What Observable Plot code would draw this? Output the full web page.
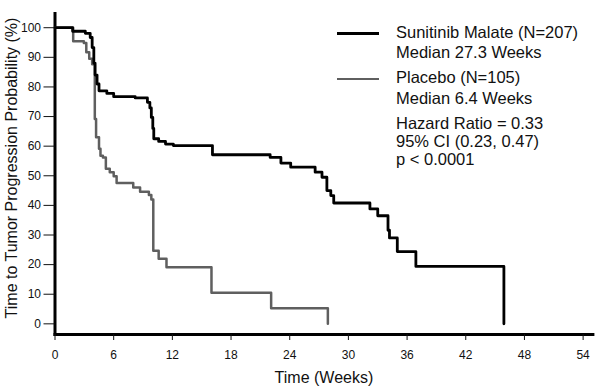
<!DOCTYPE html>
<html>
<head>
<meta charset="utf-8">
<script src="https://cdn.jsdelivr.net/npm/d3@7"></script>
<script src="https://cdn.jsdelivr.net/npm/@observablehq/plot@0.6"></script>
<style>
  html, body { margin: 0; padding: 0; background: #fff; }
  #wrap { position: relative; width: 600px; height: 390px; font-family: "Liberation Sans", Arial, sans-serif; }
  .leg { position: absolute; left: 396px; font-size: 16.5px; color: #111; white-space: nowrap; }
  .sw { position: absolute; left: 337px; width: 42px; }
</style>
</head>
<body>
<div id="wrap"></div>
<script>
// Sunitinib Malate: [time (weeks), probability (%)]
const sunitinibTime = [0, 1.8, 3.1, 3.6, 3.8, 3.97, 4.1, 4.3, 4.5, 5.3, 6.0, 8.2, 9.45, 9.7, 9.85, 10.0, 10.1, 10.6, 11.3, 12.1, 16.1, 22.0, 23.1, 24.1, 26.6, 27.3, 27.8, 28.2, 28.5, 32.2, 33.0, 34.05, 34.2, 35.0, 36.9, 45.9];
const sunitinibProb = [100, 98.8, 98.1, 96.7, 93.3, 88, 84, 81, 78.7, 77.8, 76.7, 76.3, 74.8, 72.9, 69.7, 66, 62.5, 61.6, 60.7, 60.2, 57.1, 56.2, 54.3, 52.9, 51.2, 49.5, 45, 43.3, 40.8, 38.8, 36.5, 31.6, 29, 24.4, 19.4, 0];
// Placebo
const placeboTime = [0, 1.86, 2.95, 3.2, 3.5, 3.8, 4.07, 4.2, 4.5, 4.65, 4.9, 5.2, 5.6, 6.0, 6.3, 8.0, 8.7, 9.6, 9.85, 10.05, 10.6, 11.4, 16.0, 22.1, 27.9];
const placeboProb = [100, 95.4, 94.8, 91.7, 89.5, 87.7, 69.2, 63, 59.1, 56.8, 56.2, 52.4, 51.2, 49.8, 47.6, 46.0, 44.6, 43.5, 42.0, 24.7, 22.0, 19.1, 10.5, 5.3, 0];

const seriesNames = ["Sunitinib Malate", "Placebo"];
const seriesColors = ["#000000", "#5f5f5f"];
const xTicks = [0, 6, 12, 18, 24, 30, 36, 42, 48, 54];
const yTicks = [0, 10, 20, 30, 40, 50, 60, 70, 80, 90, 100];
const legendLines = [
  ["Sunitinib Malate (N=207)", "Median 27.3 Weeks"],
  ["Placebo (N=105)", "Median 6.4 Weeks"],
  ["Hazard Ratio = 0.33", "95% CI (0.23, 0.47)", "p < 0.0001"]
];

const sun = sunitinibTime.map((t, i) => ({t, p: sunitinibProb[i], s: seriesNames[0]}));
const pla = placeboTime.map((t, i) => ({t, p: placeboProb[i], s: seriesNames[1]}));

const chart = Plot.plot({
  width: 600,
  height: 390,
  marginLeft: 54.5,
  marginRight: 7.6,
  marginTop: 13,
  marginBottom: 56,
  style: {fontFamily: "'Liberation Sans', Arial, sans-serif", fontSize: "12px", color: "#111", background: "white"},
  x: {domain: [0, 55]},
  y: {domain: [-3.6, 104.8]},
  marks: [
    Plot.frame({anchor: "left", strokeWidth: 3, stroke: "#000"}),
    Plot.frame({anchor: "bottom", strokeWidth: 3, stroke: "#000"}),
    Plot.axisX({ticks: xTicks, tickSize: 6, tickPadding: 10, label: null, fontSize: 12, strokeWidth: 1}),
    Plot.axisY({ticks: yTicks, tickSize: 11, tickPadding: 3, label: null, fontSize: 12, strokeWidth: 1}),
    Plot.line(pla, {x: "t", y: "p", curve: "step-after", stroke: seriesColors[1], strokeWidth: 2.5}),
    Plot.line(sun, {x: "t", y: "p", curve: "step-after", stroke: seriesColors[0], strokeWidth: 2.8}),
    Plot.text(["Time to Tumor Progression Probability (%)"], {frameAnchor: "left", textAnchor: "middle", rotate: -90, dx: -43, dy: -6, fontSize: 16, fill: "#111"}),
    Plot.text(["Time (Weeks)"], {frameAnchor: "bottom", textAnchor: "middle", dy: 48, fontSize: 16, fill: "#111"})
  ]
});

const wrap = document.getElementById("wrap");
wrap.appendChild(chart);

const blockTops = [21.5, 67.2, 114];
const blockLineHeights = [20.5, 20.5, 18];
legendLines.forEach((lines, i) => {
  const d = document.createElement("div");
  d.className = "leg";
  d.style.top = blockTops[i] + "px";
  d.style.lineHeight = blockLineHeights[i] + "px";
  d.innerHTML = lines.join("<br>");
  wrap.appendChild(d);
});
[[33.3, 3, seriesColors[0]], [79, 2, seriesColors[1]]].forEach(([y, w, c]) => {
  const s = document.createElement("div");
  s.className = "sw";
  s.style.top = (y - w / 2) + "px";
  s.style.borderTop = w + "px solid " + c;
  wrap.appendChild(s);
});
</script>
</body>
</html>
